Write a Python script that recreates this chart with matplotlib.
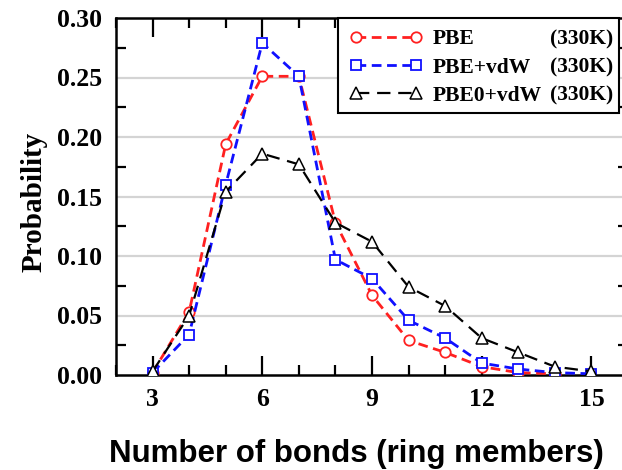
import matplotlib
matplotlib.use("Agg")
import matplotlib.pyplot as plt
from matplotlib.patches import Rectangle
from matplotlib.ticker import MultipleLocator

# ring size (number of bonds)
ring_sizes = [3, 4, 5, 6, 7, 8, 9, 10, 11, 12, 13, 14, 15]

pbe = [0.002, 0.053, 0.194, 0.251, 0.251, 0.128, 0.067, 0.029, 0.019, 0.007, 0.002, 0.001]
pbe_vdw = [0.002, 0.034, 0.160, 0.279, 0.251, 0.097, 0.081, 0.046, 0.031, 0.010, 0.005, 0.002, 0.001]
pbe0_vdw = [0.003, 0.050, 0.154, 0.186, 0.177, 0.128, 0.112, 0.074, 0.058, 0.031, 0.019, 0.007, 0.003]

labels = ["PBE", "PBE+vdW", "PBE0+vdW"]
temp_label = "(330K)"

serif = ["Liberation Serif", "DejaVu Serif"]

W, H = 622, 470
fig = plt.figure(figsize=(W / 100, H / 100), dpi=100)
# axes box in pixels: x 116..628 (right edge runs off the picture), y 18..375
ax = fig.add_axes([116 / W, 95 / H, 512 / W, 357 / H])

ax.plot(ring_sizes[:len(pbe)], pbe, color="#ff2020", lw=2.0, dashes=(3.5, 2.0),
        marker="o", ms=7.5, mfc="white", mec="#ff2020", mew=1.3, label=labels[0], zorder=3)
ax.plot(ring_sizes, pbe_vdw, color="#1010ff", lw=2.0, dashes=(3.5, 2.0),
        marker="s", ms=7, mfc="white", mec="#1010ff", mew=1.3, label=labels[1], zorder=3)
ax.plot(ring_sizes, pbe0_vdw, color="black", lw=1.6, dashes=(6.0, 3.5),
        marker="^", ms=8, mfc="white", mec="black", mew=1.1, label=labels[2], zorder=3)

ax.set_xlim(2, 16)
ax.set_ylim(0, 0.30)

ax.xaxis.set_minor_locator(MultipleLocator(1))
ax.yaxis.set_minor_locator(MultipleLocator(0.025))

for gy in [0.05, 0.10, 0.15, 0.20, 0.25]:
    ax.axhline(gy, color="#d4d4d4", lw=1.6, zorder=0)

ax.tick_params(axis="x", which="major", direction="in", length=14, width=1.6,
               top=True, pad=9)
ax.tick_params(axis="x", which="minor", direction="in", length=7, width=1.6, top=True)
ax.tick_params(axis="y", which="major", direction="in", length=0, pad=10, right=True)
ax.tick_params(axis="y", which="minor", direction="in", length=7, width=1.6, right=True)

ax.set_xticks([3, 6, 9, 12, 15])
ax.set_yticks([0.0, 0.05, 0.10, 0.15, 0.20, 0.25, 0.30])
ax.set_yticklabels(["0.00", "0.05", "0.10", "0.15", "0.20", "0.25", "0.30"])
for lab in ax.get_xticklabels() + ax.get_yticklabels():
    lab.set_family(serif)
    lab.set_fontweight("bold")
    lab.set_fontsize(18.5)

for sp in ax.spines.values():
    sp.set_linewidth(1.8)

fig.text(34 / W, 1 - 202 / H, "Probability", family=serif, fontweight="bold",
         fontsize=21, rotation=90, ha="center", va="center")
fig.text(356 / W, 1 - 462 / H, "Number of bonds (ring members)",
         family=["Liberation Sans", "DejaVu Sans"], fontweight="bold", fontsize=22.5,
         ha="center", va="baseline")

# legend frame drawn by hand so the temperature tags fit inside it
ax_px = lambda px, py: ((px - 116) / 512, (375 - py) / 357)
bx0, by0 = ax_px(338, 113)
bx1, by1 = ax_px(619, 18)
ax.add_patch(Rectangle((bx0, by0), bx1 - bx0, by1 - by0, transform=ax.transAxes,
                       facecolor="white", edgecolor="black", lw=1.5, zorder=5,
                       clip_on=False))

leg = ax.legend(loc="upper left", bbox_to_anchor=ax_px(338, 18),
                borderaxespad=0, numpoints=2, handlelength=3.4, handletextpad=0.5,
                labelspacing=0.38, borderpad=0.52, frameon=False,
                prop={"family": serif, "weight": "bold", "size": 15.5})
leg.set_zorder(6)

fig.canvas.draw()
inv = fig.transFigure.inverted()
for t in leg.get_texts():
    bb = t.get_window_extent()
    yc = (bb.y0 + bb.y1) / 2
    fx, fy = inv.transform((613, yc))
    fig.text(fx, fy, temp_label, family=serif, fontweight="bold", fontsize=15.5,
             ha="right", va="center", zorder=7)

fig.savefig("out.png", dpi=100)
